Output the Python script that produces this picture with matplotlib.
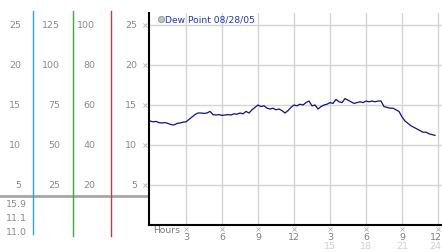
import numpy as np
import matplotlib
matplotlib.use('Agg')
import matplotlib.pyplot as plt
from matplotlib.transforms import blended_transform_factory

# dew point readings, one every 15 minutes
hours = np.arange(0, 24, 0.25)
dew_point = [
    13.0, 12.9, 12.95, 12.8, 12.75, 12.8, 12.7, 12.55, 12.5, 12.7, 12.75, 12.85,
    12.9, 13.2, 13.5, 13.8, 14.0, 14.0, 13.95, 14.0, 14.2, 13.8, 13.75, 13.8,
    13.7, 13.75, 13.8, 13.75, 13.9, 13.85, 14.0, 13.9, 14.2, 14.0, 14.4, 14.7,
    15.0, 14.8, 14.9, 14.6, 14.5, 14.6, 14.4, 14.5, 14.3, 14.0, 14.3, 14.7,
    15.0, 14.9, 15.1, 15.0, 15.3, 15.5, 14.9, 15.0, 14.5, 14.8, 15.0, 15.1,
    15.3, 15.2, 15.7, 15.4, 15.3, 15.8, 15.6, 15.4, 15.2, 15.3, 15.4, 15.3,
    15.5, 15.4, 15.5, 15.4, 15.5, 15.5, 14.8, 14.7, 14.6, 14.6, 14.4, 14.2,
    13.5, 13.0, 12.7, 12.4, 12.2, 12.0, 11.8, 11.6, 11.6, 11.4, 11.3, 11.2,
]
series_label = 'Dew Point 08/28/05'

y_ticks = [5, 10, 15, 20, 25]
scale_b = [25, 50, 75, 100, 125]
scale_c = [20, 40, 60, 80, 100]
x_ticks = [3, 6, 9, 12, 15, 18, 21, 24]
hour_top = ['3', '6', '9', '12', '3', '6', '9', '12']
hour_bottom = ['', '', '', '', '15', '18', '21', '24']
stats = ['15.9', '11.1', '11.0']

W, H = 442, 253
fig = plt.figure(figsize=(W / 100, H / 100), dpi=100)
fig.patch.set_facecolor('white')

# overlay in pixel units for the side panel and labels
deco = fig.add_axes([0, 0, 1, 1])
deco.set_xlim(0, W)
deco.set_ylim(H, 0)
deco.axis('off')

ax = fig.add_axes([149 / W, 27 / H, 293 / W, 212 / H])
ax.set_xlim(-1 / 12, 292 / 12)
ax.set_ylim(0, 26.5)
ax.set_xticks(x_ticks)
ax.set_yticks(y_ticks)
ax.grid(True, color='#d4d4d4', lw=1)
ax.set_axisbelow(True)
ax.tick_params(length=0, labelbottom=False, labelleft=False)
for s in ['top', 'right']:
    ax.spines[s].set_visible(False)
for s in ['left', 'bottom']:
    ax.spines[s].set_color('black')
    ax.spines[s].set_linewidth(1.5)

ax.plot(hours, dew_point, color='#101080', lw=0.9)

# legend entry
ax.plot([0.9], [25.7], 'o', ms=4.5, mfc='#c0c0c8', mec='#9090a0', mew=0.6, clip_on=False)
ax.text(1.25, 25.7, series_label, color='#2233bb', fontsize=6.6, va='center', ha='left')

# side scales
ty = blended_transform_factory(deco.transData, ax.transData)
gray = '#8a8a8a'
fs = 6.8
for i, v in enumerate(y_ticks):
    deco.text(21, v, str(v), transform=ty, ha='right', va='center', color=gray, fontsize=fs)
    deco.text(60, v, str(scale_b[i]), transform=ty, ha='right', va='center', color=gray, fontsize=fs)
    deco.text(95, v, str(scale_c[i]), transform=ty, ha='right', va='center', color=gray, fontsize=fs)
    deco.text(137, v, str(v), transform=ty, ha='right', va='center', color=gray, fontsize=fs)
    deco.plot([145], [v], 'x', ms=2.5, mew=0.6, color='#b0b0b0', transform=ty)

deco.plot([0, 149], [197, 197], color='#a8a8a8', lw=2)
deco.plot([33.3, 33.3], [12, 235], color='#3a9fd0', lw=1)
deco.plot([72.7, 72.7], [12, 237], color='#40a840', lw=1)
deco.plot([111.3, 111.3], [12, 237], color='#b84040', lw=1)
for i, s in enumerate(stats):
    deco.text(27, 204.5 + 14 * i, s, ha='right', va='center', color=gray, fontsize=fs)

# hour labels
tx = blended_transform_factory(ax.transData, deco.transData)
deco.text(153, 231, 'Hours', ha='left', va='center', color='#7a7a7a', fontsize=6.6)
for i, h in enumerate(x_ticks):
    deco.plot([h], [230], 'x', ms=2.5, mew=0.6, color='#b0b0b0', transform=tx)
    lx = min(h, 23.8)
    deco.text(lx, 237.5, hour_top[i], transform=tx, ha='center', va='center',
              color='#808080', fontsize=fs)
    deco.text(lx, 246.5, hour_bottom[i], transform=tx, ha='center', va='center',
              color='#d0d0d0', fontsize=fs)

fig.savefig('out.png', dpi=100)
